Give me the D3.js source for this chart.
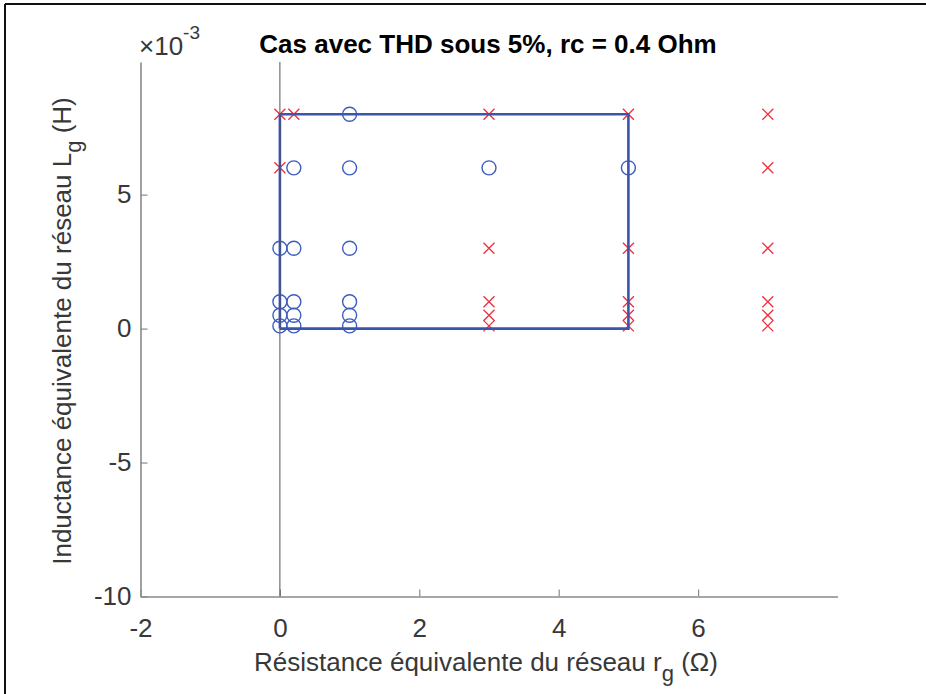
<!DOCTYPE html>
<html>
<head>
<meta charset="utf-8">
<script src="https://cdn.jsdelivr.net/npm/d3@7"></script>
<style>
  html, body { margin: 0; padding: 0; background: #fff; }
  svg { display: block; }
  text { font-family: "Liberation Sans", Arial, Helvetica, sans-serif; }
</style>
</head>
<body>
<svg id="chart" width="926" height="694"></svg>
<script>
// Grid-resistance / grid-inductance cases tested (rc = 0.4 Ohm)
// Cases meeting THD < 5 % (circles)
const okR = [0, 0, 0, 0,
             0.2, 0.2, 0.2, 0.2, 0.2,
             1, 1, 1, 1, 1, 1,
             3,
             5];
const okL = [0.1e-3, 0.5e-3, 1e-3, 3e-3,
             0.1e-3, 0.5e-3, 1e-3, 3e-3, 6e-3,
             0.1e-3, 0.5e-3, 1e-3, 3e-3, 6e-3, 8e-3,
             6e-3,
             6e-3];
// Cases exceeding the THD limit (crosses)
const failR = [0, 0,
               0.2,
               3, 3, 3, 3, 3,
               5, 5, 5, 5, 5,
               7, 7, 7, 7, 7, 7];
const failL = [6e-3, 8e-3,
               8e-3,
               0.1e-3, 0.5e-3, 1e-3, 3e-3, 8e-3,
               0.1e-3, 0.5e-3, 1e-3, 3e-3, 8e-3,
               0.1e-3, 0.5e-3, 1e-3, 3e-3, 6e-3, 8e-3];
// Validity zone boundary
const zoneR = [0, 5, 5, 0, 0];
const zoneL = [0, 0, 8e-3, 8e-3, 0];

const xTicks = [-2, 0, 2, 4, 6];
const yTicks = [-10e-3, -5e-3, 0, 5e-3];
const xDomain = [-2, 8];
const yDomain = [-10e-3, 9.95e-3];

const svg = d3.select("#chart");

// figure frame
svg.append("line").attr("x1", 5).attr("x2", 926).attr("y1", 4).attr("y2", 4)
  .attr("stroke", "#111").attr("stroke-width", 2);
svg.append("line").attr("x1", 5).attr("x2", 5).attr("y1", 4).attr("y2", 694)
  .attr("stroke", "#111").attr("stroke-width", 2);

const x = d3.scaleLinear().domain(xDomain).range([140.5, 837.5]);
const y = d3.scaleLinear().domain(yDomain).range([596.5, 62]);

const axisColor = "#8a8a8a";
const textColor = "#383838";

// axes
const gx = svg.append("g").attr("transform", `translate(0,${y(yDomain[0])})`)
  .call(d3.axisBottom(x).tickValues(xTicks).tickFormat(d => d)
    .tickSizeInner(-7).tickSizeOuter(0).tickPadding(22));
const gy = svg.append("g").attr("transform", `translate(${x(xDomain[0])},0)`)
  .call(d3.axisLeft(y).tickValues(yTicks).tickFormat(d => Math.round(d * 1e3))
    .tickSizeInner(-7).tickSizeOuter(0).tickPadding(9));
[gx, gy].forEach(g => {
  g.select(".domain").attr("stroke", axisColor).attr("stroke-width", 1.6);
  g.selectAll(".tick line").attr("stroke", axisColor).attr("stroke-width", 1.2);
  g.selectAll(".tick text").attr("fill", textColor)
    .style("font-family", '"Liberation Sans", Arial, sans-serif')
    .style("font-size", "26px");
});

// markers
const crossSize = 5.5;
svg.append("g").selectAll("path").data(failR.map((r, i) => [r, failL[i]]))
  .join("path")
  .attr("d", d => {
    const cx = x(d[0]), cy = y(d[1]);
    return `M${cx - crossSize},${cy - crossSize}L${cx + crossSize},${cy + crossSize}` +
           `M${cx - crossSize},${cy + crossSize}L${cx + crossSize},${cy - crossSize}`;
  })
  .attr("stroke", "#ee2f3c").attr("stroke-width", 1.3).attr("fill", "none");

svg.append("g").selectAll("circle").data(okR.map((r, i) => [r, okL[i]]))
  .join("circle")
  .attr("cx", d => x(d[0])).attr("cy", d => y(d[1])).attr("r", 7)
  .attr("stroke", "#3d5cbf").attr("stroke-width", 1.4).attr("fill", "none");

// zone boundary
svg.append("path")
  .datum(zoneR.map((r, i) => [r, zoneL[i]]))
  .attr("d", d3.line().x(d => x(d[0])).y(d => y(d[1])))
  .attr("fill", "none").attr("stroke", "#3a55ad").attr("stroke-width", 2.6);

// vertical line at r = 0
svg.append("line")
  .attr("x1", x(0)).attr("x2", x(0)).attr("y1", y(yDomain[1])).attr("y2", y(yDomain[0]))
  .attr("stroke", "#555").attr("stroke-width", 1);

// exponent label
const expo = svg.append("text").attr("x", 139).attr("y", 55)
  .attr("fill", textColor).style("font-size", "26px");
expo.append("tspan").text("×10");
expo.append("tspan").attr("dy", -16).style("font-size", "19px").text("-3");

// title
svg.append("text").attr("x", 488).attr("y", 53).attr("text-anchor", "middle")
  .attr("fill", "#000").style("font-size", "26px").style("font-weight", "bold")
  .text("Cas avec THD sous 5%, rc = 0.4 Ohm");

// x label
const xl = svg.append("text").attr("x", 486).attr("y", 671).attr("text-anchor", "middle")
  .attr("fill", textColor).style("font-size", "26px");
xl.append("tspan").text("Résistance équivalente du réseau r");
xl.append("tspan").attr("dy", 10).style("font-size", "22px").text("g");
xl.append("tspan").attr("dy", -10).text(" (Ω)");

// y label
const yl = svg.append("text").attr("transform", "translate(71,331) rotate(-90)")
  .attr("text-anchor", "middle").attr("fill", textColor).style("font-size", "26px");
yl.append("tspan").text("Inductance équivalente du réseau L");
yl.append("tspan").attr("dy", 10).style("font-size", "22px").text("g");
yl.append("tspan").attr("dy", -10).text(" (H)");
</script>
</body>
</html>
